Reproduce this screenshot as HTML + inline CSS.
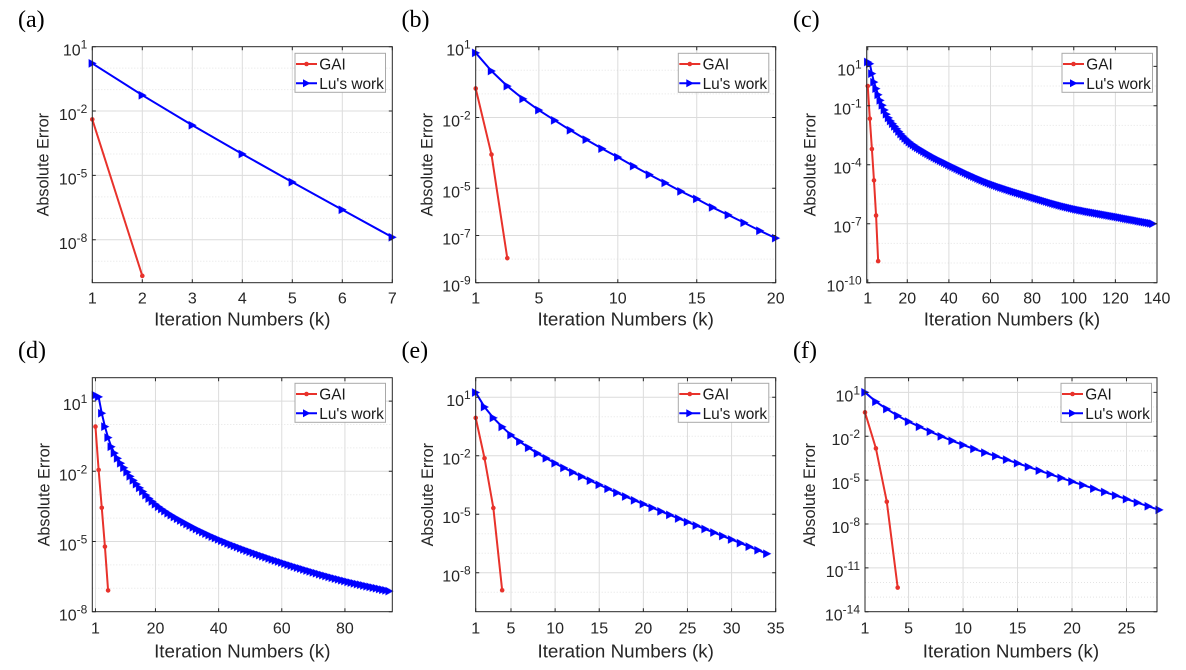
<!DOCTYPE html>
<html><head><meta charset="utf-8">
<style>
html,body{margin:0;padding:0;background:#fff}
svg{display:block}
.tk{font-size:16px;fill:#262626}
.tx{text-anchor:middle}
.ty{text-anchor:end}
.sp{font-size:12px}
.xl{font-size:18.8px;fill:#262626;text-anchor:middle}
.yl{font-size:16.2px;fill:#262626;text-anchor:middle}
.lg{font-size:15.4px;fill:#1a1a1a}
.pl{font-family:"Liberation Serif","Times New Roman",serif;font-size:24px;fill:#000}
</style></head>
<body>
<svg width="1186" height="670" viewBox="0 0 1186 670" xmlns="http://www.w3.org/2000/svg" font-family="'Liberation Sans', Arial, sans-serif">
<rect x="0" y="0" width="1186" height="670" fill="#fff"/>
<g id="dyn"></g>

<!-- Panel (a) -->
<text class="pl" x="18" y="27">(a)</text>
<text class="tk ty" x="87.3" y="55.7">10<tspan class="sp" dy="-7">1</tspan></text>
<text class="tk ty" x="87.3" y="120.1">10<tspan class="sp" dy="-7">-2</tspan></text>
<text class="tk ty" x="87.3" y="184.4">10<tspan class="sp" dy="-7">-5</tspan></text>
<text class="tk ty" x="87.3" y="248.8">10<tspan class="sp" dy="-7">-8</tspan></text>
<text class="tk tx" x="92.3" y="303.7">1</text>
<text class="tk tx" x="142.3" y="303.7">2</text>
<text class="tk tx" x="192.3" y="303.7">3</text>
<text class="tk tx" x="242.3" y="303.7">4</text>
<text class="tk tx" x="292.3" y="303.7">5</text>
<text class="tk tx" x="342.3" y="303.7">6</text>
<text class="tk tx" x="392.3" y="303.7">7</text>
<text class="xl" x="242.3" y="325.7">Iteration Numbers (k)</text>
<text class="yl" transform="translate(48.3,164.7) rotate(-90)">Absolute Error</text>
<text class="lg" x="319.3" y="69.5">GAI</text>
<text class="lg" x="319.3" y="88.8">Lu's work</text>

<!-- Panel (b) -->
<text class="pl" x="401.5" y="27">(b)</text>
<text class="tk ty" x="470.7" y="55.7">10<tspan class="sp" dy="-7">1</tspan></text>
<text class="tk ty" x="470.7" y="126.5">10<tspan class="sp" dy="-7">-2</tspan></text>
<text class="tk ty" x="470.7" y="197.3">10<tspan class="sp" dy="-7">-5</tspan></text>
<text class="tk ty" x="470.7" y="244.5">10<tspan class="sp" dy="-7">-7</tspan></text>
<text class="tk ty" x="470.7" y="291.7">10<tspan class="sp" dy="-7">-9</tspan></text>
<text class="tk tx" x="475.7" y="303.7">1</text>
<text class="tk tx" x="538.9" y="303.7">5</text>
<text class="tk tx" x="617.8" y="303.7">10</text>
<text class="tk tx" x="696.7" y="303.7">15</text>
<text class="tk tx" x="775.7" y="303.7">20</text>
<text class="xl" x="625.7" y="325.7">Iteration Numbers (k)</text>
<text class="yl" transform="translate(432.5,164.7) rotate(-90)">Absolute Error</text>
<text class="lg" x="702.6" y="69.5">GAI</text>
<text class="lg" x="702.6" y="88.8">Lu's work</text>

<!-- Panel (c) -->
<text class="pl" x="793" y="27">(c)</text>
<text class="tk ty" x="861.7" y="75.4">10<tspan class="sp" dy="-7">1</tspan></text>
<text class="tk ty" x="861.7" y="114.7">10<tspan class="sp" dy="-7">-1</tspan></text>
<text class="tk ty" x="861.7" y="173.7">10<tspan class="sp" dy="-7">-4</tspan></text>
<text class="tk ty" x="861.7" y="232.7">10<tspan class="sp" dy="-7">-7</tspan></text>
<text class="tk ty" x="861.7" y="291.7">10<tspan class="sp" dy="-7">-10</tspan></text>
<text class="tk tx" x="867.7" y="303.7">1</text>
<text class="tk tx" x="907.3" y="303.7">20</text>
<text class="tk tx" x="948.9" y="303.7">40</text>
<text class="tk tx" x="990.5" y="303.7">60</text>
<text class="tk tx" x="1032.1" y="303.7">80</text>
<text class="tk tx" x="1073.7" y="303.7">100</text>
<text class="tk tx" x="1115.4" y="303.7">120</text>
<text class="tk tx" x="1157" y="303.7">140</text>
<text class="xl" x="1011.9" y="325.7">Iteration Numbers (k)</text>
<text class="yl" transform="translate(815.5,164.7) rotate(-90)">Absolute Error</text>
<text class="lg" x="1086.3" y="69.5">GAI</text>
<text class="lg" x="1086.3" y="88.8">Lu's work</text>

<!-- Panel (d) -->
<text class="pl" x="18" y="358">(d)</text>
<text class="tk ty" x="87.3" y="410.1">10<tspan class="sp" dy="-7">1</tspan></text>
<text class="tk ty" x="87.3" y="480.3">10<tspan class="sp" dy="-7">-2</tspan></text>
<text class="tk ty" x="87.3" y="550.5">10<tspan class="sp" dy="-7">-5</tspan></text>
<text class="tk ty" x="87.3" y="620.7">10<tspan class="sp" dy="-7">-8</tspan></text>
<text class="tk tx" x="95.5" y="633.3">1</text>
<text class="tk tx" x="155.5" y="633.3">20</text>
<text class="tk tx" x="218.6" y="633.3">40</text>
<text class="tk tx" x="281.8" y="633.3">60</text>
<text class="tk tx" x="344.9" y="633.3">80</text>
<text class="xl" x="242.3" y="657.7">Iteration Numbers (k)</text>
<text class="yl" transform="translate(49.5,494.7) rotate(-90)">Absolute Error</text>
<text class="lg" x="319.3" y="399.5">GAI</text>
<text class="lg" x="319.3" y="418.8">Lu's work</text>

<!-- Panel (e) -->
<text class="pl" x="401.5" y="358">(e)</text>
<text class="tk ty" x="470.7" y="406.2">10<tspan class="sp" dy="-7">1</tspan></text>
<text class="tk ty" x="470.7" y="464.7">10<tspan class="sp" dy="-7">-2</tspan></text>
<text class="tk ty" x="470.7" y="523.2">10<tspan class="sp" dy="-7">-5</tspan></text>
<text class="tk ty" x="470.7" y="581.7">10<tspan class="sp" dy="-7">-8</tspan></text>
<text class="tk tx" x="475.7" y="633.3">1</text>
<text class="tk tx" x="511" y="633.3">5</text>
<text class="tk tx" x="555.1" y="633.3">10</text>
<text class="tk tx" x="599.2" y="633.3">15</text>
<text class="tk tx" x="643.4" y="633.3">20</text>
<text class="tk tx" x="687.5" y="633.3">25</text>
<text class="tk tx" x="731.6" y="633.3">30</text>
<text class="tk tx" x="775.7" y="633.3">35</text>
<text class="xl" x="625.7" y="657.7">Iteration Numbers (k)</text>
<text class="yl" transform="translate(432.8,494.7) rotate(-90)">Absolute Error</text>
<text class="lg" x="702.6" y="399.5">GAI</text>
<text class="lg" x="702.6" y="418.8">Lu's work</text>

<!-- Panel (f) -->
<text class="pl" x="793" y="358">(f)</text>
<text class="tk ty" x="860" y="401.3">10<tspan class="sp" dy="-7">1</tspan></text>
<text class="tk ty" x="860" y="445.2">10<tspan class="sp" dy="-7">-2</tspan></text>
<text class="tk ty" x="860" y="489.1">10<tspan class="sp" dy="-7">-5</tspan></text>
<text class="tk ty" x="860" y="533">10<tspan class="sp" dy="-7">-8</tspan></text>
<text class="tk ty" x="860" y="576.8">10<tspan class="sp" dy="-7">-11</tspan></text>
<text class="tk ty" x="860" y="620.7">10<tspan class="sp" dy="-7">-14</tspan></text>
<text class="tk tx" x="865" y="633.3">1</text>
<text class="tk tx" x="908.6" y="633.3">5</text>
<text class="tk tx" x="963.1" y="633.3">10</text>
<text class="tk tx" x="1017.5" y="633.3">15</text>
<text class="tk tx" x="1072" y="633.3">20</text>
<text class="tk tx" x="1126.5" y="633.3">25</text>
<text class="xl" x="1011" y="657.7">Iteration Numbers (k)</text>
<text class="yl" transform="translate(815.1,494.7) rotate(-90)">Absolute Error</text>
<text class="lg" x="1085.3" y="399.5">GAI</text>
<text class="lg" x="1085.3" y="418.8">Lu's work</text>
</svg>

<script>
(function(){
const RED='#e8322b', BLUE='#0000ff';
function pchip(A){
  const X=A.map(a=>a[0]), Y=A.map(a=>a[1]), n=X.length;
  if(n<2) return ()=>Y[0];
  const h=[], d=[];
  for(let i=0;i<n-1;i++){h[i]=X[i+1]-X[i]; d[i]=(Y[i+1]-Y[i])/h[i];}
  const m=new Array(n);
  m[0]=d[0]; m[n-1]=d[n-2];
  for(let i=1;i<n-1;i++){
    if(d[i-1]*d[i]<=0) m[i]=0;
    else{const w1=2*h[i]+h[i-1], w2=h[i]+2*h[i-1]; m[i]=(w1+w2)/(w1/d[i-1]+w2/d[i]);}
  }
  return function(x){
    let i=0; while(i<n-2 && x>X[i+1]) i++;
    const t=(x-X[i])/h[i], t2=t*t, t3=t2*t;
    return (2*t3-3*t2+1)*Y[i]+(t3-2*t2+t)*h[i]*m[i]+(-2*t3+3*t2)*Y[i+1]+(t3-t2)*h[i]*m[i+1];
  };
}
const P=[
 {L:92.3,R:392.3,T:46.7,B:282.7,x0:1,x1:7,y0:-10,y1:1,xt:[1,2,3,4,5,6,7],yt:[1,-2,-5,-8],
  g:[-2.39,-9.68],n:7,a:[[1,0.22],[2,-1.26],[3,-2.66],[4,-4.0],[5,-5.31],[6,-6.6],[7,-7.88]],lg:[295,53.3]},
 {L:475.7,R:775.7,T:46.7,B:282.7,x0:1,x1:20,y0:-9,y1:1,xt:[1,5,10,15,20],yt:[1,-2,-5,-7,-9],
  g:[-0.77,-3.57,-7.96],n:20,a:[0.74,-0.03,-0.67,-1.21,-1.69,-2.12,-2.54,-2.94,-3.32,-3.68,-4.06,-4.42,-4.77,-5.13,-5.45,-5.81,-6.13,-6.46,-6.8,-7.11].map((v,i)=>[i+1,v]),lg:[678.3,53.3]},
 {L:866.7,R:1157,T:46.7,B:282.7,x0:0.5,x1:140,y0:-10,y1:2,xt:[1,20,40,60,80,100,120,140],yt:[1,-1,-4,-7,-10],
  g:[0,-1.66,-3.2,-4.8,-6.58,-8.9],n:138,a:[[1,1.22],[2,1.13],[3,0.63],[4,0.2],[5,-0.13],[6,-0.44],[7,-0.73],[8,-0.98],[9,-1.22],[11,-1.62],[14,-2.05],[20,-2.76],[30,-3.45],[40,-4.0],[60,-4.96],[80,-5.65],[100,-6.24],[120,-6.64],[138,-7.0]],lg:[1062,53.3]},
 {L:92.3,R:392.3,T:377.7,B:611.7,x0:0,x1:95,y0:-8,y1:2,xt:[1,20,40,60,80],yt:[1,-2,-5,-8],
  g:[-0.09,-1.94,-3.56,-5.22,-7.09],n:94,a:[[1,1.25],[2,1.18],[3,0.48],[4,-0.09],[5,-0.56],[6,-0.95],[8,-1.45],[10,-1.85],[14,-2.55],[20,-3.41],[30,-4.25],[40,-4.91],[60,-5.9],[80,-6.69],[94,-7.12]],lg:[295,383.3]},
 {L:475.7,R:775.7,T:377.7,B:611.7,x0:1,x1:35,y0:-10,y1:2,xt:[1,5,10,15,20,25,30,35],yt:[1,-2,-5,-8],
  g:[-0.06,-2.13,-4.68,-8.9],n:34,a:[[1,1.24],[2,0.5],[3,-0.06],[4,-0.52],[5,-0.94],[6,-1.28],[7,-1.59],[8,-1.88],[9,-2.13],[10,-2.39],[15,-3.49],[20,-4.48],[25,-5.4],[30,-6.3],[34,-7.03]],lg:[678.3,383.3]},
 {L:865,R:1157,T:377.7,B:611.7,x0:1,x1:27.8,y0:-14,y1:2,xt:[1,5,10,15,20,25],yt:[1,-2,-5,-8,-11,-14],
  g:[-0.37,-2.83,-6.48,-12.35],n:28,a:[[1,1.0],[2,0.36],[3,-0.14],[4,-0.6],[5,-1.0],[10,-2.6],[15,-3.85],[20,-5.1],[25,-6.3],[28,-7.04]],lg:[1061,383.3]}
];
const f2=v=>(+v).toFixed(2);
const tri=(x,y)=>`M${f2(x-3.5)},${f2(y-4)}L${f2(x+4)},${f2(y)}L${f2(x-3.5)},${f2(y+4)}Z`;
let s='';
for(const p of P){
  const sx=k=>p.L+(k-p.x0)*(p.R-p.L)/(p.x1-p.x0);
  const sy=v=>p.T+(p.y1-v)*(p.B-p.T)/(p.y1-p.y0);
  // grid
  for(let e=p.y0+1;e<p.y1;e++){
    const y=f2(sy(e));
    if(p.yt.includes(e)) s+=`<line x1="${p.L}" x2="${p.R}" y1="${y}" y2="${y}" stroke="#dcdcdc" stroke-width="1"/>`;
    else s+=`<line x1="${p.L}" x2="${p.R}" y1="${y}" y2="${y}" stroke="#e4e4e4" stroke-width="1" stroke-dasharray="1 2"/>`;
  }
  for(const k of p.xt){
    const x=sx(k); if(x<=p.L+0.3||x>=p.R-0.3) continue;
    s+=`<line x1="${f2(x)}" x2="${f2(x)}" y1="${p.T}" y2="${p.B}" stroke="#dcdcdc" stroke-width="1"/>`;
  }
  // GAI
  const gp=p.g.map((v,i)=>[sx(i+1),sy(v)]);
  s+=`<polyline fill="none" stroke="${RED}" stroke-width="2" stroke-linejoin="round" points="${gp.map(q=>f2(q[0])+','+f2(q[1])).join(' ')}"/>`;
  s+=`<g fill="${RED}">`+gp.map(q=>`<circle cx="${f2(q[0])}" cy="${f2(q[1])}" r="2.3"/>`).join('')+`</g>`;
  // Lu
  const fn=pchip(p.a); const lp=[];
  for(let k=1;k<=p.n;k++) lp.push([sx(k),sy(fn(k))]);
  s+=`<polyline fill="none" stroke="${BLUE}" stroke-width="2" stroke-linejoin="round" points="${lp.map(q=>f2(q[0])+','+f2(q[1])).join(' ')}"/>`;
  s+=`<path fill="${BLUE}" stroke="${BLUE}" stroke-width="0.6" stroke-opacity="0.6" d="${lp.map(q=>tri(q[0],q[1])).join('')}"/>`;
  // axes box + ticks
  s+=`<rect x="${p.L}" y="${p.T}" width="${f2(p.R-p.L)}" height="${f2(p.B-p.T)}" fill="none" stroke="#262626" stroke-width="1"/>`;
  let tk='';
  for(const k of p.xt){const x=f2(sx(k)); tk+=`M${x},${p.B}V${f2(p.B-3.5)}M${x},${p.T}V${f2(p.T+3.5)}`;}
  for(const e of p.yt){const y=f2(sy(e)); tk+=`M${p.L},${y}H${f2(p.L+3.5)}M${p.R},${y}H${f2(p.R-3.5)}`;}
  s+=`<path d="${tk}" stroke="#262626" stroke-width="1" fill="none"/>`;
  // legend
  const lx=p.lg[0], ly=p.lg[1];
  s+=`<rect x="${lx}" y="${ly}" width="90.5" height="39" fill="#fff" stroke="#a8a8a8" stroke-width="1"/>`;
  const r1=ly+10.7, r2=ly+30;
  s+=`<line x1="${lx+1}" x2="${lx+22}" y1="${f2(r1)}" y2="${f2(r1)}" stroke="${RED}" stroke-width="2"/>`;
  s+=`<circle cx="${f2(lx+11.5)}" cy="${f2(r1)}" r="2.3" fill="${RED}"/>`;
  s+=`<line x1="${lx+1}" x2="${lx+22}" y1="${f2(r2)}" y2="${f2(r2)}" stroke="${BLUE}" stroke-width="2"/>`;
  s+=`<path d="${tri(lx+11.5,r2)}" fill="${BLUE}"/>`;
}
document.getElementById('dyn').innerHTML=s;
})();
</script>
</body></html>
